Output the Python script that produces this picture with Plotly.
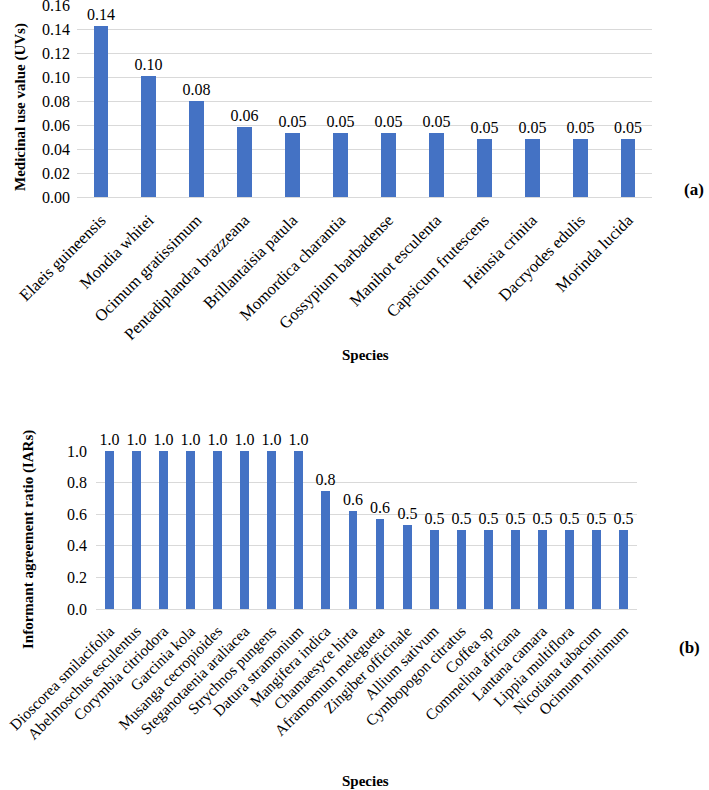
import plotly.graph_objects as go

species_a = ["Elaeis guineensis", "Mondia whitei", "Ocimum gratissimum", "Pentadiplandra brazzeana",
             "Brillantaisia patula", "Momordica charantia", "Gossypium barbadense", "Manihot esculenta",
             "Capsicum frutescens", "Heinsia crinita", "Dacryodes edulis", "Morinda lucida"]
uv_values = [0.143, 0.101, 0.080, 0.058, 0.053, 0.053, 0.053, 0.053, 0.048, 0.048, 0.048, 0.048]
uv_ticks = [0.00, 0.02, 0.04, 0.06, 0.08, 0.10, 0.12, 0.14, 0.16]

species_b = ["Dioscorea smilacifolia", "Abelmoschus esculentus", "Corymbia citriodora", "Garcinia kola",
             "Musanga cecropioides", "Steganotaenia araliacea", "Strychnos pungens", "Datura stramonium",
             "Mangifera indica", "Chamaesyce hirta", "Aframomum melegueta", "Zingiber officinale",
             "Allium sativum", "Cymbopogon citratus", "Coffea sp", "Commelina africana",
             "Lantana camara", "Lippia multiflora", "Nicotiana tabacum", "Ocimum minimum"]
iar_values = [1.0, 1.0, 1.0, 1.0, 1.0, 1.0, 1.0, 1.0, 0.75, 0.62, 0.57, 0.53,
              0.5, 0.5, 0.5, 0.5, 0.5, 0.5, 0.5, 0.5]
iar_ticks = [0.0, 0.2, 0.4, 0.6, 0.8, 1.0]

W, H = 709, 790
BAR = "#4472C4"
GRID = "#d9d9d9"
FONT = "Liberation Serif"

def px_x(p):
    return p / W

def px_y(p):
    return 1 - p / H

fig = go.Figure()
fig.add_trace(go.Bar(
    x=species_a, y=uv_values, xaxis="x", yaxis="y",
    marker=dict(color=BAR, line=dict(width=0)), width=0.31,
    text=[f"{v:.2f}" for v in uv_values], textposition="outside", constraintext="none",
    textfont=dict(family=FONT, size=16, color="black"), cliponaxis=False,
    showlegend=False, hoverinfo="x+y"))
fig.add_trace(go.Bar(
    x=species_b, y=iar_values, xaxis="x2", yaxis="y2",
    marker=dict(color=BAR, line=dict(width=0)), width=0.33,
    text=[f"{v:.1f}" for v in iar_values], textposition="outside", constraintext="none",
    textfont=dict(family=FONT, size=16, color="black"), cliponaxis=False,
    showlegend=False, hoverinfo="x+y"))

xcommon = dict(tickangle=-45, showgrid=False, showline=True, linecolor=GRID, linewidth=1,
               ticks="", color="black", automargin=False, ticklabeloverflow="allow")
ycommon = dict(showgrid=True, gridcolor=GRID, gridwidth=1, zeroline=False, showline=False,
               ticks="", color="black", automargin=False, ticklabeloverflow="allow")

fig.update_layout(
    width=W, height=H,
    margin=dict(l=0, r=0, t=0, b=0, autoexpand=False),
    paper_bgcolor="white", plot_bgcolor="white",
    bargap=0,
    font=dict(family=FONT, color="black"),
    xaxis=dict(domain=[px_x(77), px_x(652)], anchor="y", ticklabelstandoff=6,
               tickfont=dict(family=FONT, size=16.5), **xcommon),
    yaxis=dict(domain=[px_y(197), px_y(5)], anchor="x", range=[0, 0.1601],
               tickvals=uv_ticks, ticktext=[f"{t:.2f}" for t in uv_ticks],
               tickfont=dict(family=FONT, size=16), ticklabelstandoff=6, **ycommon),
    xaxis2=dict(domain=[px_x(96), px_x(637)], anchor="y2", ticklabelstandoff=6,
                tickfont=dict(family=FONT, size=15.5), **xcommon),
    yaxis2=dict(domain=[px_y(609), px_y(451)], anchor="x2", range=[0, 1.0005],
                tickvals=iar_ticks, ticktext=[f"{t:.1f}" for t in iar_ticks],
                tickfont=dict(family=FONT, size=16), ticklabelstandoff=8, **ycommon),
    annotations=[
        dict(text="<b>Medicinal use value (UVs)</b>", textangle=-90, xref="paper", yref="paper",
             x=px_x(20), y=px_y(107), showarrow=False, font=dict(family=FONT, size=15),
             xanchor="center", yanchor="middle"),
        dict(text="<b>Species</b>", xref="paper", yref="paper", x=px_x(365), y=px_y(355),
             showarrow=False, font=dict(family=FONT, size=15), xanchor="center", yanchor="middle"),
        dict(text="<b>(a)</b>", xref="paper", yref="paper", x=px_x(694), y=px_y(190),
             showarrow=False, font=dict(family=FONT, size=17), xanchor="center", yanchor="middle"),
        dict(text="<b>Informant agreement ratio (IARs)</b>", textangle=-90, xref="paper", yref="paper",
             x=px_x(28), y=px_y(540), showarrow=False, font=dict(family=FONT, size=15),
             xanchor="center", yanchor="middle"),
        dict(text="<b>Species</b>", xref="paper", yref="paper", x=px_x(365), y=px_y(781),
             showarrow=False, font=dict(family=FONT, size=15), xanchor="center", yanchor="middle"),
        dict(text="<b>(b)</b>", xref="paper", yref="paper", x=px_x(689), y=px_y(647),
             showarrow=False, font=dict(family=FONT, size=17), xanchor="center", yanchor="middle"),
    ],
)

fig.write_html("out.html", config={"displayModeBar": False},
               post_script="document.body.style.margin='0';document.body.style.overflow='hidden';")
